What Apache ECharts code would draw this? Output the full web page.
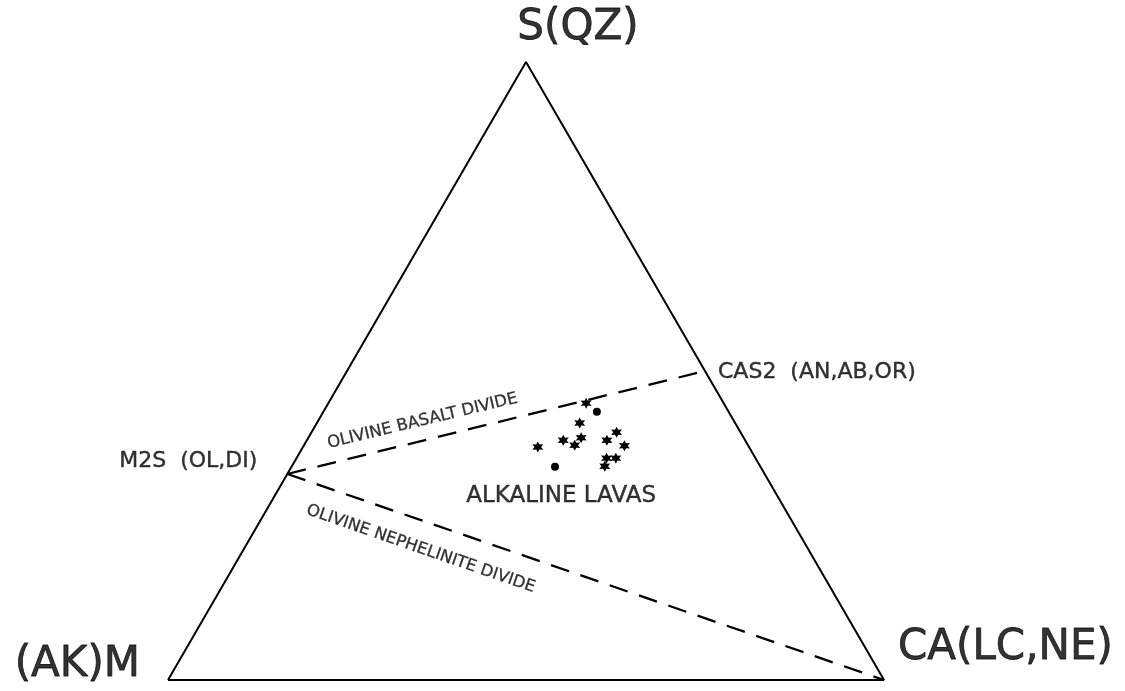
<!DOCTYPE html>
<html>
<head>
<meta charset="utf-8">
<title>S(QZ) - (AK)M - CA(LC,NE)</title>
<script src="https://cdn.jsdelivr.net/npm/echarts@6/dist/echarts.min.js"></script>
<style>
  html, body { margin: 0; padding: 0; background: #ffffff; }
  #chart { width: 1125px; height: 691px; }
</style>
</head>
<body>
<div id="chart"></div>
<script>
// Ternary compositions of the lavas, in percent of S, (AK)M and CA
const lavaS  = [44.8, 43.4, 41.6, 37.7, 38.8, 38.0, 39.2, 34.5, 40.1, 38.8, 37.9, 35.9, 35.9, 34.6];
const lavaM  = [19.2, 18.4, 21.7, 29.5, 25.4, 24.2, 22.7, 28.7, 17.3, 19.3, 17.3, 20.8, 19.5, 21.7];
const lavaCA = [36.0, 38.2, 36.7, 32.8, 35.8, 37.8, 38.1, 36.8, 42.6, 41.9, 44.8, 43.3, 44.6, 43.7];
const lavaMarker = ['star', 'dot', 'star', 'star', 'star', 'star', 'star', 'dot', 'star', 'star', 'star', 'star', 'star', 'star'];

// Apices and reference compositions, as [S, M, CA] fractions
const apexS  = [1, 0, 0];
const apexM  = [0, 1, 0];
const apexCA = [0, 0, 1];
const phaseM2S  = [1 / 3, 2 / 3, 0];
const phaseCAS2 = [0.5, 0, 0.5];

const apexLabels = ['S(QZ)', '(AK)M', 'CA(LC,NE)'];
const phaseLabels = ['M2S  (OL,DI)', 'CAS2  (AN,AB,OR)'];
const fieldLabel = 'ALKALINE LAVAS';
const divideLabels = ['OLIVINE BASALT DIVIDE', 'OLIVINE NEPHELINITE DIVIDE'];

// ternary [S, M, CA] -> cartesian (equilateral triangle, unit base, height axis scaled 0..1)
function tern(p) {
  const s = p[0], ca = p[2];
  return [ca + s / 2, s];
}

const FONT = 'DejaVu Sans';
const INK = '#000000';
const STAR = 'path://M0,-10L2.6,-4.5L8.7,-5L5.2,0L8.7,5L2.6,4.5L0,10L-2.6,4.5L-8.7,5L-5.2,0L-8.7,-5L-2.6,-4.5Z';

const points = lavaS.map((s, i) => {
  const dot = lavaMarker[i] === 'dot';
  return {
    value: tern([lavaS[i] / 100, lavaM[i] / 100, lavaCA[i] / 100]),
    symbol: dot ? 'circle' : STAR,
    symbolSize: dot ? 8 : 11
  };
});

// a text anchored at a composition; the text is drawn as a rich segment in solid ink
function textPoint(p, text, opts) {
  const size = opts.fontSize;
  return {
    value: tern(p),
    label: {
      show: true,
      position: 'inside',
      offset: opts.offset || [0, 0],
      align: opts.align || 'center',
      rotate: opts.rotate || 0,
      formatter: '{t|' + text + '}',
      rich: {
        t: {
          color: INK,
          fontFamily: FONT,
          fontSize: size,
          textBorderColor: INK,
          textBorderWidth: opts.stroke || 0.4,
          align: opts.align || 'center'
        }
      }
    }
  };
}

const chart = echarts.init(document.getElementById('chart'), null, { renderer: 'canvas' });

chart.setOption({
  backgroundColor: '#ffffff',
  animation: false,
  textStyle: { color: INK, fontFamily: FONT },
  grid: { left: 168, right: 241, top: 62, bottom: 11, containLabel: false },
  xAxis: { type: 'value', min: 0, max: 1, show: false },
  yAxis: { type: 'value', min: 0, max: 1, show: false },
  series: [
    {
      // triangle outline
      type: 'line',
      data: [apexM, apexS, apexCA, apexM].map(tern),
      symbol: 'none',
      lineStyle: { color: INK, width: 2 },
      silent: true
    },
    {
      // olivine basalt divide: M2S - CAS2
      type: 'line',
      data: [phaseM2S, phaseCAS2].map(tern),
      symbol: 'none',
      lineStyle: { color: INK, width: 2.3, type: [19, 12] },
      silent: true
    },
    {
      // olivine nephelinite divide: M2S - CA
      type: 'line',
      data: [phaseM2S, apexCA].map(tern),
      symbol: 'none',
      lineStyle: { color: INK, width: 2.3, type: [19, 12] },
      silent: true
    },
    {
      // alkaline lavas
      type: 'scatter',
      data: points,
      itemStyle: { color: INK, opacity: 1 },
      silent: true
    },
    {
      // text annotations anchored in composition space
      type: 'scatter',
      symbolSize: 1,
      itemStyle: { color: 'rgba(0,0,0,0)' },
      silent: true,
      data: [
        textPoint(apexS, apexLabels[0], { offset: [52, -34], fontSize: 42, stroke: 0.8 }),
        textPoint(apexM, apexLabels[1], { align: 'right', offset: [-28, -15], fontSize: 42, stroke: 0.8 }),
        textPoint(apexCA, apexLabels[2], { align: 'left', offset: [14, -32], fontSize: 42, stroke: 0.8 }),
        textPoint(phaseM2S, phaseLabels[0], { align: 'right', offset: [-30, -13], fontSize: 22 }),
        textPoint(phaseCAS2, phaseLabels[1], { align: 'left', offset: [13, 1], fontSize: 22 }),
        textPoint([0.345, 0.27, 0.385], fieldLabel, { align: 'left', offset: [-101, 29], fontSize: 23 }),
        textPoint([0.419, 0.435, 0.146], divideLabels[0], { rotate: 13.5, fontSize: 16.5, stroke: 0.3 }),
        textPoint([0.212, 0.541, 0.247], divideLabels[1], { rotate: -19, fontSize: 16.5, stroke: 0.3 })
      ]
    }
  ]
});
</script>
</body>
</html>
